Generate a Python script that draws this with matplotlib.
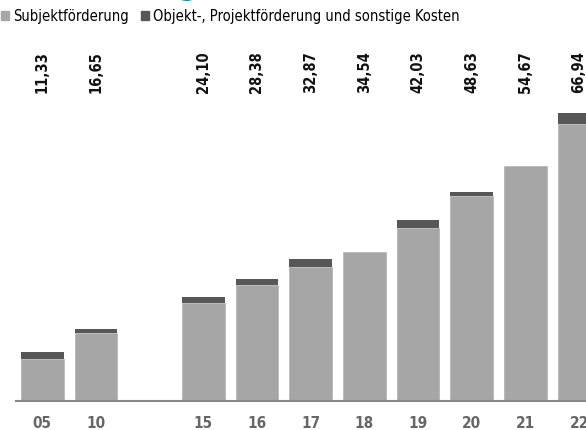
import matplotlib.pyplot as plt
from matplotlib.patches import Patch

# data
years = ["05", "10", "15", "16", "17", "18", "19", "20", "21", "22"]
slots = [0, 1, 3, 4, 5, 6, 7, 8, 9, 10]
totals = [11.33, 16.65, 24.10, 28.38, 32.87, 34.54, 42.03, 48.63, 54.67, 66.94]
objekt = [1.55, 0.93, 1.35, 1.40, 1.70, 0.0, 1.78, 0.93, 0.0, 2.55]
subjekt = [t - o for t, o in zip(totals, objekt)]
labels = ["11,33", "16,65", "24,10", "28,38", "32,87", "34,54", "42,03", "48,63", "54,67", "66,94"]

light = "#a6a6a6"
dark = "#575757"
narrow = ["DejaVu Sans"]

fig = plt.figure(figsize=(5.86, 4.30), dpi=100)
W, H = 586, 430
ax = fig.add_axes([16 / W, 1 - 401 / H, 1 - 16 / W, 344.6 / H])

ax.bar(slots, subjekt, width=0.8, color=light, edgecolor="#b8b8b8", linewidth=0.6)
ax.bar(slots, objekt, width=0.8, bottom=subjekt, color=dark, linewidth=0)

for s, lab in zip(slots, labels):
    ax.text(s, 71.5, lab, rotation=90, ha="center", va="bottom",
            fontsize=10.5, fontweight="bold", family=narrow, fontstretch="condensed",
            color="#111111")

ax.set_xlim(-0.49, 10.13)
ax.set_ylim(0, 80)
ax.set_xticks(slots)
ax.set_xticklabels(years, fontsize=11, fontweight="bold", family=narrow,
                   fontstretch="condensed", color="#666666")
ax.tick_params(axis="x", length=0, pad=11)
ax.set_yticks([])
for sp in ["top", "right", "left"]:
    ax.spines[sp].set_visible(False)
ax.spines["bottom"].set_color("#888888")
ax.spines["bottom"].set_linewidth(1.5)

handles = [Patch(color=light), Patch(color=dark)]
fig.legend(handles, ["Subjektförderung", "Objekt-, Projektförderung und sonstige Kosten"],
           loc="upper left", bbox_to_anchor=(1 / W, 1 - 9 / H), ncol=2, frameon=False,
           prop={"family": narrow, "size": 10.5, "stretch": "condensed"},
           handlelength=0.55, handleheight=0.55,
           handletextpad=0.3, columnspacing=0.8, borderaxespad=0, borderpad=0)

# title cut off by the top edge, only the descender shows
fig.text(199 / W, 1 + 5 / H, "Entwicklung", ha="right", va="baseline",
         fontsize=20, fontweight="bold", color="#1a8aa0")

fig.savefig("out.png", dpi=100)
